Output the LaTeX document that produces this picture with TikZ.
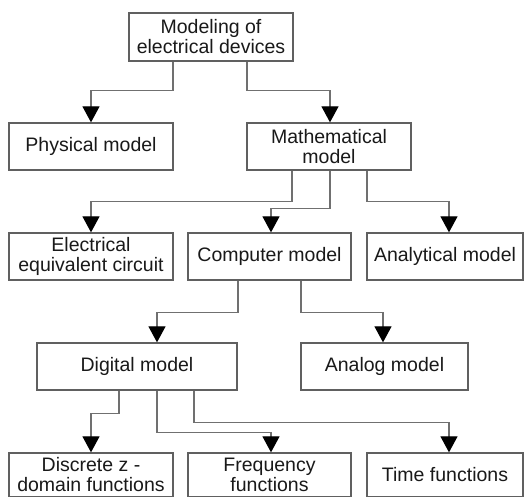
\documentclass[tikz,border=0pt]{standalone}
\usepackage{fontspec}
\setmainfont{Liberation Sans}
\usetikzlibrary{arrows.meta}
\definecolor{boxc}{HTML}{606060}
\definecolor{linec}{HTML}{707070}
\begin{document}
\begin{tikzpicture}[x=1pt,y=-1pt,
  box/.style={draw=boxc,line width=1.3pt,minimum height=47pt,inner sep=0pt,align=center,
    font=\fontsize{19.5}{20}\selectfont,text=black!90},
  conn/.style={draw=linec,line width=1.2pt,-{Triangle[width=17pt,length=16pt,black]}}]
\useasboundingbox (0,0) rectangle (525,496);
\fill[white] (0,0) rectangle (525,496);
\node[box,minimum width=164pt,minimum height=48pt] (top) at (211,37) {Modeling of\\electrical devices};
\node[box,minimum width=164pt] (phys) at (91,146.5) {Physical model};
\node[box,minimum width=164pt] (math) at (329,146.5) {Mathematical\\model};
\node[box,minimum width=164pt] (elec) at (91,256.5) {Electrical\\equivalent circuit};
\node[box,minimum width=163pt] (comp) at (269.5,256.5) {Computer model};
\node[box,minimum width=156pt] (anal) at (445,256.5) {Analytical model};
\node[box,minimum width=200pt] (dig) at (137,366.5) {Digital model};
\node[box,minimum width=167pt] (ana) at (384.5,366.5) {Analog model};
\node[box,minimum width=164pt,minimum height=44pt] (disc) at (91,475) {Discrete z -\\domain functions};
\node[box,minimum width=163pt,minimum height=44pt] (freq) at (269.5,475) {Frequency\\functions};
\node[box,minimum width=156pt,minimum height=44pt] (time) at (445,475) {Time functions};

\draw[conn] ([xshift=-38pt]top.south) -- ++(0,29) -| (phys.north);
\draw[conn] ([xshift=36pt]top.south) -- ++(0,29) -| ([xshift=1pt]math.north);

\draw[conn] ([xshift=-37pt]math.south) -- ++(0,31) -| (elec.north);
\draw[conn] ([xshift=1pt]math.south) -- ++(0,38) -| ([xshift=1.5pt]comp.north);
\draw[conn] ([xshift=38pt]math.south) -- ++(0,31) -| ([xshift=4pt]anal.north);

\draw[conn] ([xshift=-31.5pt]comp.south) -- ++(0,32) -| ([xshift=20pt]dig.north);
\draw[conn] ([xshift=31.5pt]comp.south) -- ++(0,32) -| ([xshift=-1.5pt]ana.north);

\draw[conn] ([xshift=-18pt]dig.south) -- ++(0,23) -| (disc.north);
\draw[conn] ([xshift=20pt]dig.south) -- ++(0,42) -| ([xshift=1.5pt]freq.north);
\draw[conn] ([xshift=57pt]dig.south) -- ++(0,32) -| ([xshift=4pt]time.north);
\end{tikzpicture}
\end{document}
